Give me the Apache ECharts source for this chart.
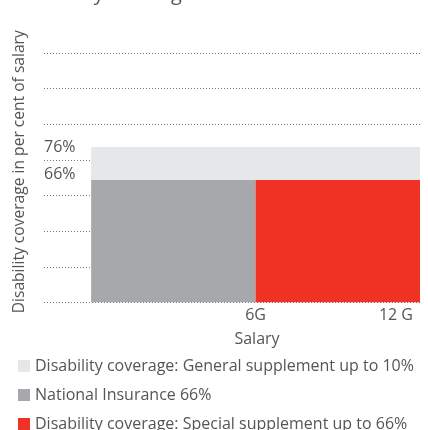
<!DOCTYPE html>
<html>
<head>
<meta charset="utf-8">
<script src="https://cdn.jsdelivr.net/npm/echarts@6/dist/echarts.min.js"></script>
<style>
    html, body { margin: 0; padding: 0; background: #fff; }
    #chart { width: 428px; height: 430px; }
</style>
</head>
<body>
<div id="chart"></div>
<script>
// segments: [salary from (G), salary to (G), coverage from (%), coverage to (%)]
const seriesNames = [
    'Disability coverage: General supplement up to 10%',
    'National Insurance 66%',
    'Disability coverage: Special supplement up to 66%',
]
const generalSupplement = [[0, 12, 66, 76]]
const nationalInsurance = [[0, 6, 0, 66]]
const specialSupplement = [[6, 12, 0, 66]]
const seriesColors = ['#e6e7e9', '#a7a8ac', '#ef3224']

const xTickValues = [6, 12]
const xTickLabels = ['6G', '12 G']
const yTickValues = [66, 76]

const textColor = '#555'
const font = "'Open Sans', sans-serif"

// schematic axes
const xMin = -1.72
const xMax = 12
const yMin = 28.9
const yMax = 104.5
const yGridStep = (yMax - yMin) / 7

const chart = echarts.init(document.getElementById('chart'))

const renderBlock = (params, api) => {
    const topLeft = api.coord([api.value(0), api.value(3)])
    const bottomRight = api.coord([api.value(1), Math.max(api.value(2), yMin)])
    return {
        type: 'rect',
        shape: {
            x: topLeft[0],
            y: topLeft[1],
            width: bottomRight[0] - topLeft[0],
            height: bottomRight[1] - topLeft[1],
        },
        style: api.style(),
    }
}

const blockSeries = (name, data, color) => ({
    name,
    type: 'custom',
    renderItem: renderBlock,
    clip: true,
    itemStyle: { color },
    encode: { x: [0, 1], y: [2, 3] },
    data,
})

chart.setOption({
    animation: false,
    textStyle: { fontFamily: font },
    title: {
        text: 'Disability coverage',
        left: 14,
        top: -21,
        textStyle: {
            color: textColor,
            fontSize: 20,
            fontWeight: 'normal',
            fontFamily: font,
        },
    },
    legend: {
        orient: 'vertical',
        left: 13,
        top: 352,
        height: 120,
        align: 'left',
        icon: 'rect',
        itemWidth: 12,
        itemHeight: 12,
        itemGap: 11,
        textStyle: {
            color: textColor,
            fontSize: 16,
            lineHeight: 18,
            fontFamily: font,
        },
        data: seriesNames,
    },
    grid: {
        top: 53,
        left: 44,
        right: 8,
        bottom: 127.5,
    },
    xAxis: {
        type: 'value',
        min: xMin,
        max: xMax,
        name: 'Salary',
        nameLocation: 'middle',
        nameGap: 29,
        nameTextStyle: {
            color: textColor,
            fontSize: 16,
            fontFamily: font,
            padding: [0, 0, 0, 50],
        },
        axisLine: { show: false },
        axisTick: { show: false },
        splitLine: { show: false },
        axisLabel: {
            customValues: xTickValues,
            alignMaxLabel: 'right',
            margin: 5,
            color: textColor,
            fontSize: 16,
            fontFamily: font,
            formatter: value => {
                const label = xTickLabels[xTickValues.indexOf(value)]
                return value === xMax ? `{last|${label}}` : label
            },
            rich: {
                last: {
                    color: textColor,
                    fontSize: 16,
                    fontFamily: font,
                    padding: [0, 7, 0, 0],
                },
            },
        },
    },
    yAxis: {
        type: 'value',
        min: yMin,
        max: yMax,
        interval: yGridStep,
        name: 'Disability coverage in per cent of salary',
        nameLocation: 'middle',
        nameGap: 16,
        nameTextStyle: {
            color: textColor,
            fontSize: 15.6,
            fontFamily: font,
            padding: [0, 0, 0, 12],
        },
        axisLine: { show: false },
        axisTick: { show: false },
        splitLine: {
            lineStyle: {
                color: '#777',
                width: 1,
                type: [1, 2],
            },
        },
        axisLabel: {
            customValues: yTickValues,
            inside: true,
            margin: 0,
            verticalAlign: 'middle',
            color: textColor,
            fontSize: 16,
            fontFamily: font,
            formatter: value => (value === 66 ? `{low|${value}%}` : `${value}%`),
            rich: {
                low: {
                    color: textColor,
                    fontSize: 16,
                    fontFamily: font,
                    padding: [0, 0, 12, 0],
                },
            },
        },
    },
    series: [
        blockSeries(seriesNames[0], generalSupplement, seriesColors[0]),
        blockSeries(seriesNames[1], nationalInsurance, seriesColors[1]),
        blockSeries(seriesNames[2], specialSupplement, seriesColors[2]),
    ],
})
</script>
</body>
</html>
